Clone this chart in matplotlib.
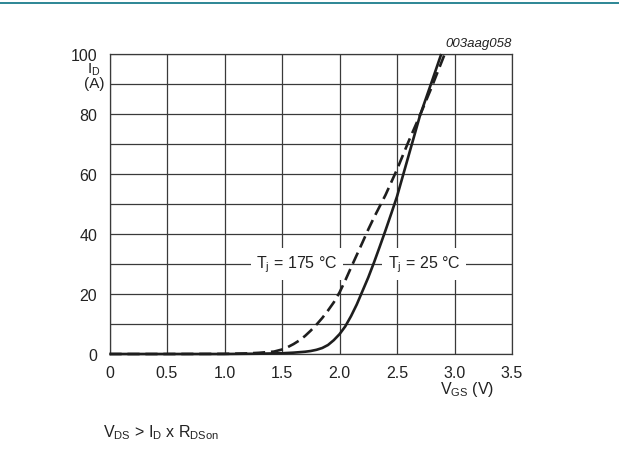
import matplotlib.pyplot as plt
from matplotlib.lines import Line2D

plt.rcParams['font.family'] = ['Liberation Sans', 'DejaVu Sans']
plt.rcParams['mathtext.fontset'] = 'custom'
plt.rcParams['mathtext.rm'] = 'Liberation Sans'
plt.rcParams['mathtext.it'] = 'Liberation Sans:italic'

# transfer characteristic, Tj = 25 °C
vgs_25 = [0, 0.5, 1.0, 1.3, 1.5, 1.6, 1.7, 1.75, 1.8, 1.85, 1.9, 1.95, 2.0,
          2.05, 2.1, 2.15, 2.2, 2.25, 2.3, 2.35, 2.4, 2.45, 2.5, 2.6, 2.7,
          2.8, 2.885]
id_25 = [0, 0, 0, 0.1, 0.25, 0.45, 0.75, 1.0, 1.4, 2.0, 3.0, 4.6, 6.6,
         9.2, 12.6, 16.5, 21.0, 25.5, 30.5, 35.8, 41.2, 46.8, 52.5, 66, 79.5,
         90.5, 100]

# transfer characteristic, Tj = 175 °C
vgs_175 = [0, 0.5, 1.0, 1.2, 1.3, 1.43, 1.5, 1.55, 1.6, 1.65, 1.7, 1.75,
           1.8, 1.85, 1.9, 1.95, 2.0, 2.05, 2.1, 2.15, 2.2, 2.25, 2.3, 2.4,
           2.5, 2.6, 2.7, 2.8, 2.915]
id_175 = [0, 0, 0.05, 0.2, 0.4, 0.8, 1.5, 2.3, 3.3, 4.5, 6.0, 7.8,
          9.8, 12.0, 14.5, 17.2, 20.5, 24.5, 28.8, 33.0, 37.2, 41.5, 45.5, 53,
          61.5, 70.8, 79.6, 88.8, 100]

x_ticks = [0, 0.5, 1.0, 1.5, 2.0, 2.5, 3.0, 3.5]
x_tick_labels = ['0', '0.5', '1.0', '1.5', '2.0', '2.5', '3.0', '3.5']
y_ticks = [0, 20, 40, 60, 80, 100]

W, H = 619, 456
fig = plt.figure(figsize=(W / 100, H / 100), dpi=100)
ax = fig.add_axes([109.5 / W, 1 - 355 / H, 402.5 / W, 300 / H])

ink = '#1e1e1e'
ax.plot(vgs_25, id_25, color=ink, lw=1.9, zorder=4, clip_on=False,
        solid_capstyle='butt', solid_joinstyle='round')
ax.plot(vgs_175, id_175, color=ink, lw=1.9, zorder=4, clip_on=False,
        dashes=(4.6, 2.2))

ax.set_xlim(0, 3.5)
ax.set_ylim(0, 100)
ax.set_xticks(x_ticks)
ax.set_xticklabels(x_tick_labels)
ax.set_yticks(y_ticks)
ax.set_yticks(range(0, 101, 10), minor=True)
ax.tick_params(which='both', length=0, labelsize=11.5, colors='#222222')
ax.tick_params(axis='x', pad=8)
ax.tick_params(axis='y', pad=9)
ax.grid(which='both', color='#3a3a3a', lw=0.9)
ax.set_axisbelow(True)
for s in ax.spines.values():
    s.set_color('#3a3a3a')
    s.set_linewidth(0.9)

box = dict(facecolor='white', edgecolor='none', pad=4)
ax.text(1.629, 30, r'T$_\mathrm{j}$ = 175 °C', ha='center', va='center',
        fontsize=11.5, color='#222222', bbox=box, zorder=3)
ax.text(2.735, 30, r'T$_\mathrm{j}$ = 25 °C', ha='center', va='center',
        fontsize=11.5, color='#222222', bbox=box, zorder=3)

# axis labels
fig.text(87 / W, 1 - 74 / H, r'I$_\mathrm{D}$', ha='left', va='baseline',
         fontsize=11, color='#222222')
fig.text(94 / W, 1 - 88 / H, '(A)', ha='center', va='baseline',
         fontsize=11, color='#222222')
fig.text(440 / W, 1 - 390 / H, r'V$_\mathrm{GS}$ (V)', ha='left', va='center',
         fontsize=11.5, color='#222222')

fig.text(512 / W, 1 - 44 / H, '003aag058', ha='right', va='center',
         fontsize=9.5, style='italic', color='#222222')
fig.text(103 / W, 1 - 433 / H, r'V$_\mathrm{DS}$ > I$_\mathrm{D}$ x R$_\mathrm{DSon}$',
         ha='left', va='center', fontsize=11.5, color='#222222')

fig.add_artist(Line2D([0, 1], [1 - 4 / H] * 2, color='#1b7d8c', lw=1.3,
                      transform=fig.transFigure))

fig.savefig('out.png', dpi=100)
